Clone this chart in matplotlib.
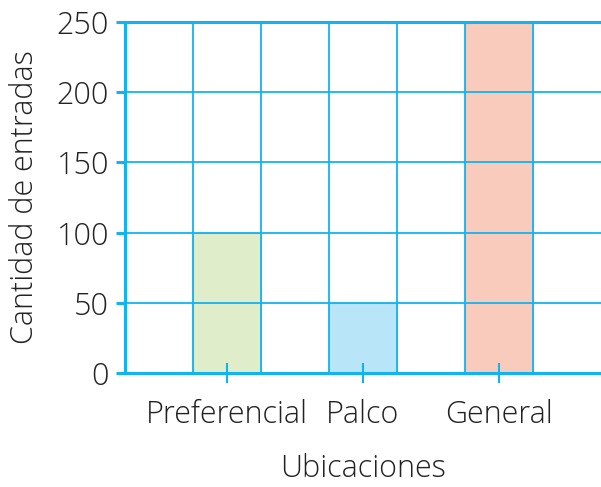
import numpy as np
import matplotlib.pyplot as plt

# Ticket counts per seating location
ubicaciones = ['Preferencial', 'Palco', 'General']
entradas = [100, 50, 250]
colores = ['#dfedca', '#b9e5f9', '#f9cbbd']
y_ticks = [0, 50, 100, 150, 200, 250]

azul = '#12b4ee'
plt.rcParams['font.family'] = ['Open Sans', 'DejaVu Sans']
plt.rcParams['font.weight'] = 'light'
plt.rcParams['axes.labelweight'] = 'light'

fig = plt.figure(figsize=(6.01, 4.87), dpi=100)
ax = fig.add_axes([125 / 601, 114 / 487, 476 / 601, 351 / 487])

# bars sit in every other grid cell
pos = np.array([1.5, 3.5, 5.5])
ax.bar(pos, entradas, width=1.0, color=colores, edgecolor='#a8c4cc',
       linewidth=0.8, zorder=1)

ax.set_xlim(0, 7)
ax.set_ylim(0, 250)

ax.set_xticks(pos)
ax.set_xticklabels(ubicaciones)
ax.set_xticks(np.arange(0, 7), minor=True)
ax.set_yticks(y_ticks)

ax.grid(True, which='minor', axis='x', color=azul, linewidth=1.3, zorder=2)
ax.grid(True, which='major', axis='y', color=azul, linewidth=1.3, zorder=2)
ax.set_axisbelow(False)

ax.spines['right'].set_visible(False)
for side in ['left', 'bottom', 'top']:
    ax.spines[side].set_color(azul)
    ax.spines[side].set_linewidth(2.2)
    ax.spines[side].set_zorder(3)

ax.tick_params(axis='x', which='major', direction='inout', length=15,
               width=1.5, color=azul, labelsize=22, labelcolor='#222222', pad=11)
ax.tick_params(axis='x', which='minor', length=0)
ax.tick_params(axis='y', direction='out', length=6.5, width=2.2, color=azul,
               labelsize=22, labelcolor='#222222', pad=5)

ax.set_xlabel('Ubicaciones', fontsize=22, fontweight='light', color='#222222',
              labelpad=16)
ax.set_ylabel('Cantidad de entradas', fontsize=22, fontweight='light',
              color='#222222', labelpad=11)

fig.savefig('out.png', dpi=100)
